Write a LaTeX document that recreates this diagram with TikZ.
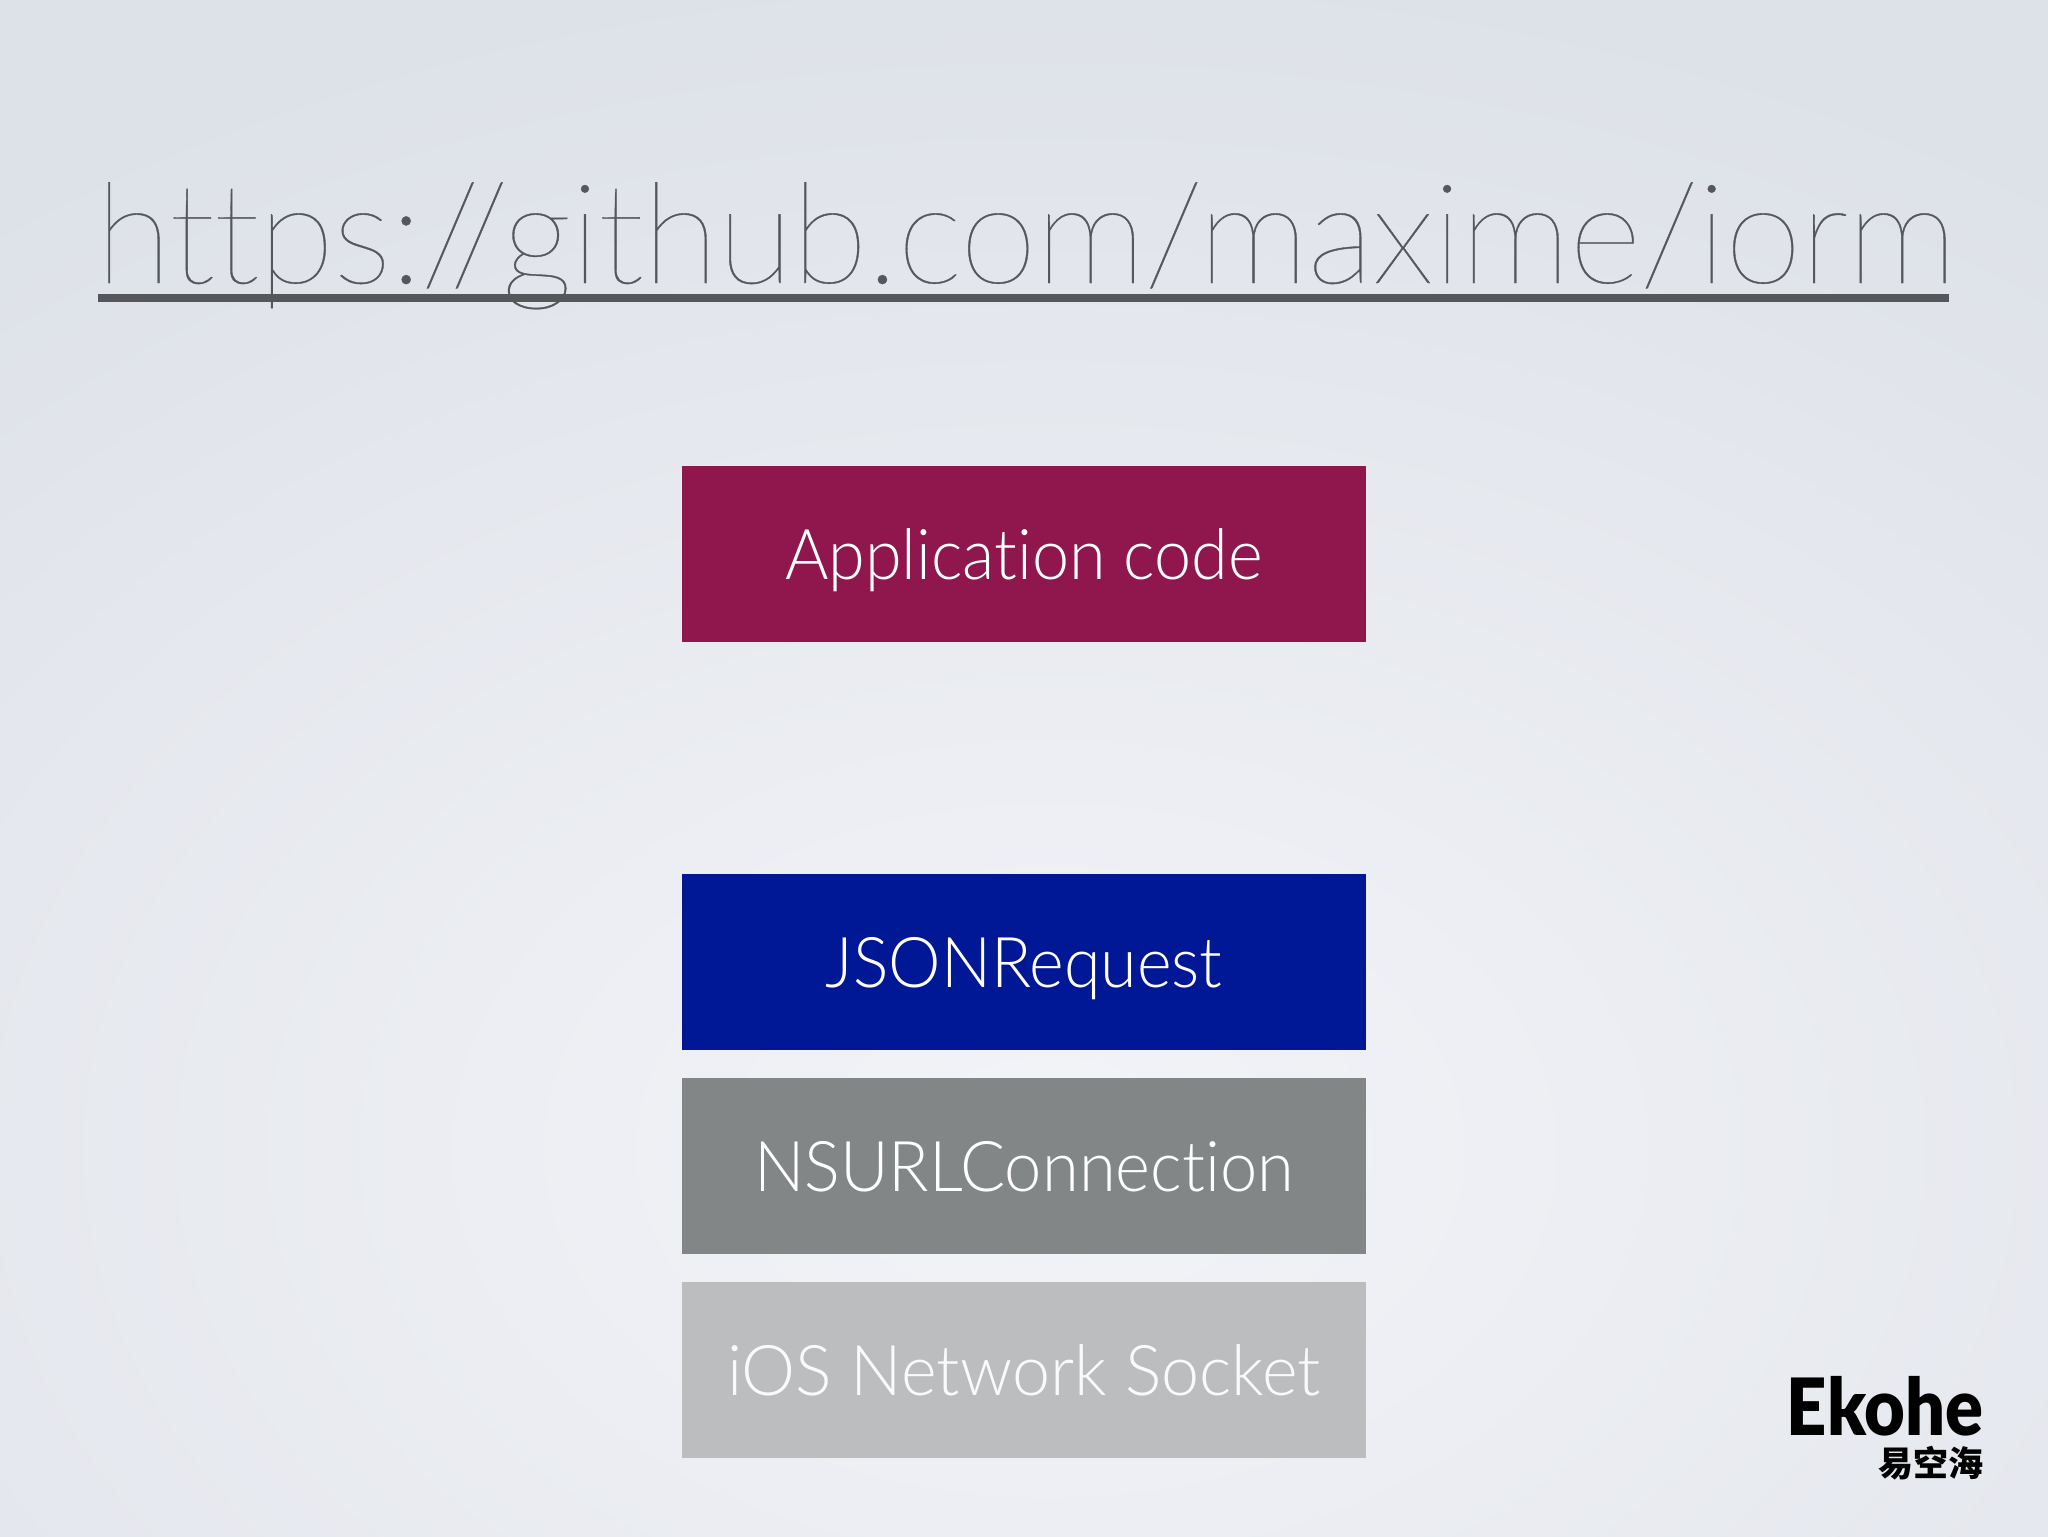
\documentclass[tikz,border=0pt]{standalone}
\usepackage{fontspec}
\usepackage{graphicx}
\setmainfont{Lato}
\newfontfamily\titlefont[LetterSpace=-1.1,Ligatures=NoCommon,FakeBold=0.25]{Lato Hairline}
\newfontfamily\bodyfont[Ligatures=NoCommon]{Lato Light}
\newfontfamily\logofont{Lato Black}
\newfontfamily\cjkfont{Noto Sans CJK SC}
\definecolor{bgedge}{HTML}{DDE1E8}
\definecolor{bgmid}{HTML}{F3F4F8}
\definecolor{titlegrey}{HTML}{55575B}
\definecolor{appcol}{HTML}{8F174E}
\definecolor{jsoncol}{HTML}{001796}
\definecolor{nsurlcol}{HTML}{838687}
\definecolor{sockcol}{HTML}{BCBDBF}
\tikzset{
  layerbox/.style={minimum width=342pt,inner sep=0pt,outer sep=0pt,
    text height=56.5pt,text depth=31.5pt,
    text=white,font=\bodyfont\fontsize{35}{40}\selectfont,anchor=north west},
}
\begin{document}
\begin{tikzpicture}[x=0.5pt,y=-0.5pt]
\useasboundingbox (0,0) rectangle (2048,1536);
\clip (0,0) rectangle (2048,1536);
\fill[bgedge] (0,0) rectangle (2048,1536);
\shade[inner color=bgmid,outer color=bgedge] (1050,1150) ellipse [x radius=1750,y radius=1200];
\node[layerbox,fill=appcol] (app) at (682,466) {\scalebox{0.95}[1]{Application code}};
\node[layerbox,fill=jsoncol] (json) at (682,874) {\scalebox{0.947}[1]{JSONRequest}};
\node[layerbox,fill=nsurlcol] (nsurl) at (682,1078) {\scalebox{0.955}[1]{NSURLConnection}};
\node[layerbox,fill=sockcol,text=white!92!sockcol] (sock) at (682,1282) {\scalebox{0.975}[1]{iOS Network Socket}};
\fill[titlegrey] (98,294) rectangle (1949,302);
\node[inner sep=0pt,anchor=base west,text=titlegrey,font=\titlefont\fontsize{70}{80}\selectfont] (title) at (95,283) {https://github.com/maxime/iorm};
\node[inner sep=0pt,anchor=base east,text=black,font=\logofont\fontsize{39.5}{44}\selectfont] (logo) at (1984,1435) {\scalebox{0.89}[1]{Ekohe}};
\node[inner sep=0pt,anchor=base east,text=black,font=\cjkfont\bfseries\fontsize{17.5}{20}\selectfont] (logocn) at (1984,1476) {易空海};
\end{tikzpicture}
\end{document}
